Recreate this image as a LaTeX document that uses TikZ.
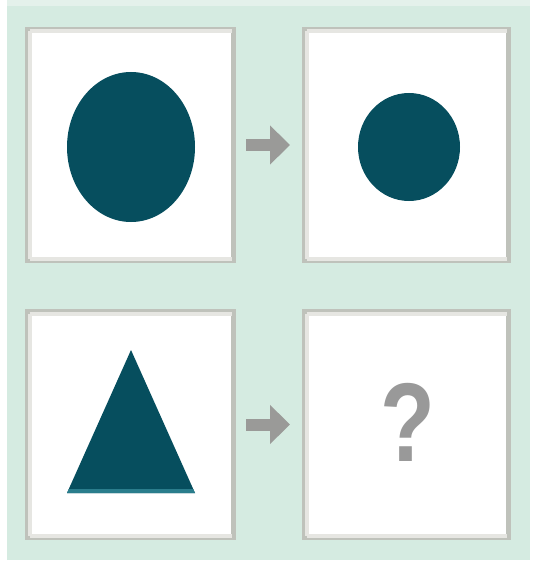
\documentclass[tikz,border=0pt]{standalone}
\usepackage{fontspec}
\setmainfont{Liberation Sans}
\usetikzlibrary{arrows.meta}
\definecolor{bggreen}{HTML}{D5EBE1}
\definecolor{topgreen}{HTML}{E4F1EB}
\definecolor{boxgray}{HTML}{BFC2BB}
\definecolor{bandgray}{HTML}{E6E6E2}
\definecolor{tealfill}{HTML}{064E5E}
\definecolor{tealedge}{HTML}{2A7D8C}
\definecolor{arrowgray}{HTML}{9A9A98}
\definecolor{qgray}{HTML}{999999}
\tikzset{
  panel/.style={draw=boxgray, line width=5pt, fill=white, rectangle, inner sep=0pt},
  band/.style={draw=bandgray, line width=4pt},
  tealshape/.style={fill=tealfill},
  grayarrow/.style={draw=arrowgray, line width=12pt, -{Triangle[width=38pt,length=20pt]}, shorten <=10pt, shorten >=12pt},
}
\begin{document}
\begin{tikzpicture}[x=1pt,y=-1pt]
\useasboundingbox (0,0) rectangle (533,567);
\fill[white] (0,0) rectangle (533,567);
\fill[topgreen] (7,0) rectangle (530,6);
\fill[bggreen] (7,6) rectangle (530,560);
% panels
\node[panel, minimum width=206pt, minimum height=231pt] (b1) at (130.5,145) {};
\node[panel, minimum width=204pt, minimum height=231pt] (b2) at (406.5,145) {};
\node[panel, minimum width=206pt, minimum height=226pt] (b3) at (130.5,424.5) {};
\node[panel, minimum width=204pt, minimum height=226pt] (b4) at (406.5,424.5) {};
\foreach \b in {b1,b2,b3,b4}{
  \draw[band] ([shift={(4.5,4.5)}]\b.north west) -- ([shift={(-4.5,4.5)}]\b.north east);
  \draw[band] ([shift={(4.5,4.5)}]\b.north west) -- ([shift={(4.5,-4.5)}]\b.south west);
  \draw[band] ([shift={(4.5,-4.5)}]\b.south west) -- ([shift={(-4.5,-4.5)}]\b.south east);
}
% shapes
\fill[tealshape] (131,147) ellipse [x radius=64, y radius=75];
\fill[tealshape] (409,147) ellipse [x radius=51, y radius=54];
\fill[tealshape] (131,350) -- (195,493) -- (67,493) -- cycle;
\fill[tealedge] (68.8,489) -- (193.2,489) -- (195,493) -- (67,493) -- cycle;
\node[text=qgray, font=\bfseries\fontsize{112}{116}\selectfont, inner sep=0pt, xscale=0.8] (q) at (408,422) {?};
% arrows
\draw[grayarrow] (b1.east) -- (b2.west);
\draw[grayarrow] (b3.east) -- (b4.west);
\end{tikzpicture}
\end{document}
